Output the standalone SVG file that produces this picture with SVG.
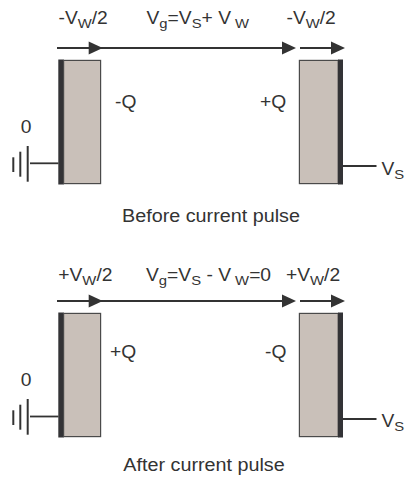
<svg xmlns="http://www.w3.org/2000/svg" width="405" height="478" viewBox="0 0 405 478">
<style>
.t{font-family:"Liberation Sans",Arial,sans-serif;font-size:17.5px;fill:#333}
.s{font-size:13.5px}
.cap{font-size:17.5px}
.ln{stroke:#333;stroke-width:1.8;fill:none}
.gnd{stroke:#333;stroke-width:2;fill:none}
.plate{fill:#c9c0b9;stroke:#4a4a4a;stroke-width:1.2}
.bar{fill:#333336}
</style>
<defs>
<path id="ah" d="M-14,-6.5 L0,0 L-14,6.5 z" fill="#333"/>
</defs>

<!-- Top panel -->
<g id="connectors-top">
<line class="ln" x1="57" y1="48" x2="290" y2="48"/>
<use href="#ah" x="102.7" y="48"/>
<use href="#ah" x="296" y="48"/>
<line class="ln" x1="300" y1="48" x2="340" y2="48"/>
<use href="#ah" x="345" y="48"/>
<line class="ln" x1="30" y1="163.3" x2="58.5" y2="163.3"/>
<line class="ln" x1="343" y1="166" x2="376.5" y2="166"/>
</g>
<g id="ground-top">
<line class="gnd" x1="13.3" y1="157.3" x2="13.3" y2="172"/>
<line class="gnd" x1="20.3" y1="151.7" x2="20.3" y2="176.7"/>
<line class="gnd" x1="27.7" y1="146" x2="27.7" y2="181.7"/>
</g>
<g id="plate-left-top">
<rect class="bar" x="58.3" y="59.5" width="5.5" height="125"/>
<rect class="plate" x="63.6" y="60.4" width="37" height="123.2"/>
</g>
<g id="plate-right-top">
<rect class="plate" x="299.4" y="60.4" width="38.8" height="123.2"/>
<rect class="bar" x="338" y="59.5" width="5" height="125"/>
</g>
<g id="labels-top">
<text class="t" transform="translate(58.5,24) scale(1.1,1)">-V<tspan class="s" dy="4">W</tspan><tspan dy="-4">/2</tspan></text>
<text class="t" transform="translate(146.5,24) scale(1.1,1)">V<tspan class="s" dy="4">g</tspan><tspan dy="-4">=V</tspan><tspan class="s" dy="4">S</tspan><tspan dy="-4">+ V</tspan><tspan class="s" dy="4"> W</tspan></text>
<text class="t" transform="translate(286.5,24) scale(1.1,1)">-V<tspan class="s" dy="4">W</tspan><tspan dy="-4">/2</tspan></text>
<text class="t" transform="translate(115,107.5) scale(1.1,1)">-Q</text>
<text class="t" transform="translate(260,107.5) scale(1.1,1)">+Q</text>
<text class="t" transform="translate(20.7,133.3) scale(1.1,1)">0</text>
<text class="t" transform="translate(381.5,175) scale(1.1,1)">V<tspan class="s" dy="4">S</tspan></text>
<text class="t cap" transform="translate(122,222) scale(1.13,1)">Before current pulse</text>
</g>

<!-- Bottom panel -->
<g id="connectors-bottom">
<line class="ln" x1="57" y1="301" x2="290" y2="301"/>
<use href="#ah" x="102.7" y="301"/>
<use href="#ah" x="296" y="301"/>
<line class="ln" x1="300" y1="301" x2="340" y2="301"/>
<use href="#ah" x="345" y="301"/>
<line class="ln" x1="30" y1="416.5" x2="58.5" y2="416.5"/>
<line class="ln" x1="343" y1="419" x2="376.5" y2="419"/>
</g>
<g id="ground-bottom">
<line class="gnd" x1="13.3" y1="410.3" x2="13.3" y2="425"/>
<line class="gnd" x1="20.3" y1="404.7" x2="20.3" y2="429.7"/>
<line class="gnd" x1="27.7" y1="399" x2="27.7" y2="434.7"/>
</g>
<g id="plate-left-bottom">
<rect class="bar" x="58.3" y="312.5" width="5.5" height="125"/>
<rect class="plate" x="63.6" y="313.4" width="37" height="123.2"/>
</g>
<g id="plate-right-bottom">
<rect class="plate" x="299.4" y="313.4" width="38.8" height="123.2"/>
<rect class="bar" x="338" y="312.5" width="5" height="125"/>
</g>
<g id="labels-bottom">
<text class="t" transform="translate(58.3,281) scale(1.1,1)">+V<tspan class="s" dy="4">W</tspan><tspan dy="-4">/2</tspan></text>
<text class="t" transform="translate(146,281) scale(1.1,1)">V<tspan class="s" dy="4">g</tspan><tspan dy="-4">=V</tspan><tspan class="s" dy="4">S</tspan><tspan dy="-4"> - V</tspan><tspan class="s" dy="4"> W</tspan><tspan dy="-4">=0</tspan></text>
<text class="t" transform="translate(286,281) scale(1.1,1)">+V<tspan class="s" dy="4">W</tspan><tspan dy="-4">/2</tspan></text>
<text class="t" transform="translate(110,358) scale(1.1,1)">+Q</text>
<text class="t" transform="translate(265,358) scale(1.1,1)">-Q</text>
<text class="t" transform="translate(20.7,386.3) scale(1.1,1)">0</text>
<text class="t" transform="translate(381.5,427) scale(1.1,1)">V<tspan class="s" dy="4">S</tspan></text>
<text class="t cap" transform="translate(123.3,471) scale(1.13,1)">After current pulse</text>
</g>
</svg>
